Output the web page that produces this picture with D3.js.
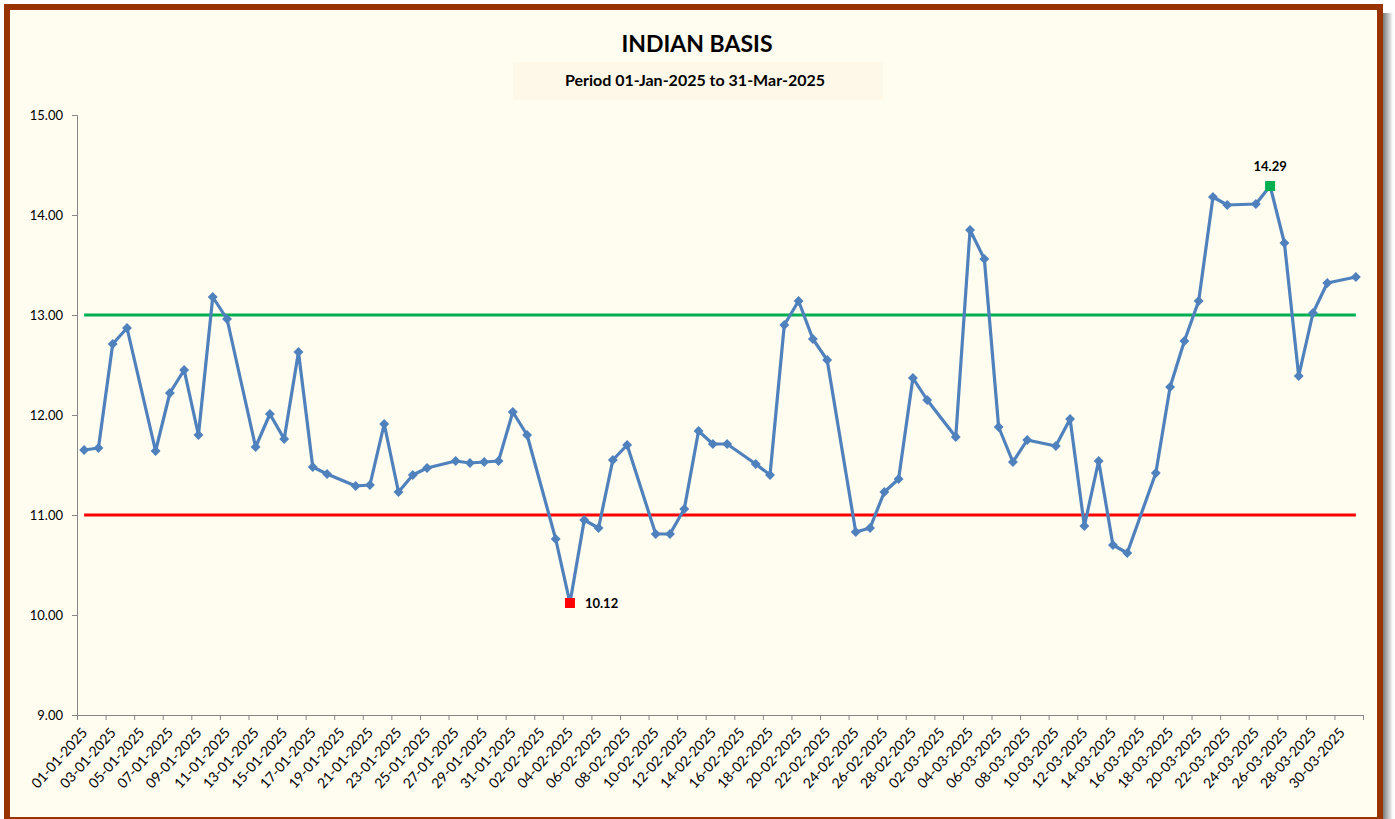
<!DOCTYPE html>
<html>
<head>
<meta charset="utf-8">
<title>Indian Basis</title>
<script src="https://d3js.org/d3.v7.min.js"></script>
<style>
  body { margin:0; background:#ffffff; }
  text { font-family: Lato, "Open Sans", sans-serif; fill:#000; }
</style>
</head>
<body>
<div id="chart"></div>
<script>

// trading days (Mon-Sat) and basis values
var dates = [
  "2025-01-01","2025-01-02","2025-01-03","2025-01-04","2025-01-06","2025-01-07","2025-01-08","2025-01-09",
  "2025-01-10","2025-01-11","2025-01-13","2025-01-14","2025-01-15","2025-01-16","2025-01-17","2025-01-18",
  "2025-01-20","2025-01-21","2025-01-22","2025-01-23","2025-01-24","2025-01-25","2025-01-27","2025-01-28",
  "2025-01-29","2025-01-30","2025-01-31","2025-02-01","2025-02-03","2025-02-04","2025-02-05","2025-02-06",
  "2025-02-07","2025-02-08","2025-02-10","2025-02-11","2025-02-12","2025-02-13","2025-02-14","2025-02-15",
  "2025-02-17","2025-02-18","2025-02-19","2025-02-20","2025-02-21","2025-02-22","2025-02-24","2025-02-25",
  "2025-02-26","2025-02-27","2025-02-28","2025-03-01","2025-03-03","2025-03-04","2025-03-05","2025-03-06",
  "2025-03-07","2025-03-08","2025-03-10","2025-03-11","2025-03-12","2025-03-13","2025-03-14","2025-03-15",
  "2025-03-17","2025-03-18","2025-03-19","2025-03-20","2025-03-21","2025-03-22","2025-03-24","2025-03-25",
  "2025-03-26","2025-03-27","2025-03-28","2025-03-29","2025-03-31"
];
var basis = [
  11.65, 11.67, 12.71, 12.87, 11.64, 12.22, 12.45, 11.80,
  13.18, 12.96, 11.68, 12.01, 11.76, 12.63, 11.48, 11.41,
  11.29, 11.30, 11.91, 11.23, 11.40, 11.47, 11.54, 11.52,
  11.53, 11.54, 12.03, 11.80, 10.76, 10.12, 10.95, 10.87,
  11.55, 11.70, 10.81, 10.81, 11.06, 11.84, 11.71, 11.71,
  11.51, 11.40, 12.90, 13.14, 12.76, 12.55, 10.83, 10.87,
  11.23, 11.36, 12.37, 12.15, 11.78, 13.85, 13.56, 11.88,
  11.53, 11.75, 11.69, 11.96, 10.89, 11.54, 10.70, 10.62,
  11.42, 12.28, 12.74, 13.14, 14.18, 14.10, 14.11, 14.29,
  13.72, 12.39, 13.02, 13.32, 13.38
];
var upperLimit = 13;
var lowerLimit = 11;
var yTicks = [9, 10, 11, 12, 13, 14, 15];
var periodStart = "2025-01-01";
var periodEnd = "2025-04-01";   // axis runs to the end of 31-Mar

var chartTitle = "INDIAN BASIS";
var chartSubtitle = "Period 01-Jan-2025 to 31-Mar-2025";

var W = 1395, H = 819;
var parse = d3.utcParse("%Y-%m-%d");
var fmt = d3.utcFormat("%d-%m-%Y");

var data = dates.map(function(d, i) {
  // points sit in the middle of their day
  return { date: d3.utcHour.offset(parse(d), 12), value: basis[i] };
});

var svg = d3.select("#chart").append("svg")
  .attr("width", W)
  .attr("height", H);

// drop shadow + brown frame
var defs = svg.append("defs");
var grad = defs.append("linearGradient").attr("id", "shadeR");
grad.append("stop").attr("offset", "0%").attr("stop-color", "#7a7a7a");
grad.append("stop").attr("offset", "100%").attr("stop-color", "#ffffff");
svg.append("rect")
  .attr("x", 1383).attr("y", 13)
  .attr("width", 10).attr("height", H)
  .attr("fill", "url(#shadeR)");

svg.append("rect")
  .attr("x", 7).attr("y", 7)
  .attr("width", 1373).attr("height", 813)
  .attr("fill", "#fffcf0")
  .attr("stroke", "#993300")
  .attr("stroke-width", 6);

// titles
svg.append("rect")
  .attr("x", 513).attr("y", 62)
  .attr("width", 370).attr("height", 38)
  .attr("fill", "#fdf8e8");

svg.append("text")
  .attr("x", 697).attr("y", 52)
  .attr("text-anchor", "middle")
  .style("font-size", "23px")
  .style("font-weight", "bold")
  .text(chartTitle);

svg.append("text")
  .attr("x", 695).attr("y", 86)
  .attr("text-anchor", "middle")
  .style("font-size", "16px")
  .style("font-weight", "bold")
  .text(chartSubtitle);

// scales
var x = d3.scaleUtc()
  .domain([parse(periodStart), parse(periodEnd)])
  .range([77, 1363]);

var y = d3.scaleLinear()
  .domain([9, 15])
  .range([715, 115]);

// y axis
var yAxis = svg.append("g")
  .attr("transform", "translate(77,0)")
  .call(d3.axisLeft(y).tickValues(yTicks).tickSize(5).tickPadding(9)
        .tickFormat(d3.format(".2f")));
yAxis.selectAll("path, line").attr("stroke", "#868686");
yAxis.selectAll("text").style("font-size", "13px").attr("fill", "#000");

// x axis, a tick every second day
var xTickDates = d3.utcDay.range(parse(periodStart), d3.utcDay.offset(parse(periodEnd), 1), 2);
var xAxis = svg.append("g")
  .attr("transform", "translate(0,715)")
  .call(d3.axisBottom(x).tickValues(xTickDates).tickSize(5)
        .tickFormat(function(d) { return d < parse(periodEnd) ? fmt(d) : ""; }));
xAxis.selectAll("path, line").attr("stroke", "#868686");
xAxis.selectAll("text")
  .style("font-size", "14px")
  .attr("fill", "#000")
  .attr("text-anchor", "end")
  .attr("y", 0).attr("dy", "0.35em")
  .attr("transform", "translate(7,15) rotate(-48)");

// limit lines across the data span
var first = data[0].date, last = data[data.length - 1].date;
svg.append("line")
  .attr("x1", x(first)).attr("x2", x(last))
  .attr("y1", y(upperLimit)).attr("y2", y(upperLimit))
  .attr("stroke", "#00b050").attr("stroke-width", 3);
svg.append("line")
  .attr("x1", x(first)).attr("x2", x(last))
  .attr("y1", y(lowerLimit)).attr("y2", y(lowerLimit))
  .attr("stroke", "#ff0000").attr("stroke-width", 3);

// basis line + diamond markers
var line = d3.line()
  .x(function(d) { return x(d.date); })
  .y(function(d) { return y(d.value); });

svg.append("path")
  .datum(data)
  .attr("d", line)
  .attr("fill", "none")
  .attr("stroke", "#4f81bd")
  .attr("stroke-width", 3.2)
  .attr("stroke-linejoin", "round");

svg.selectAll(".pt")
  .data(data)
  .enter()
  .append("rect")
  .attr("class", "pt")
  .attr("x", -3.5).attr("y", -3.5)
  .attr("width", 7).attr("height", 7)
  .attr("fill", "#4f81bd")
  .attr("transform", function(d) { return "translate(" + x(d.date) + "," + y(d.value) + ") rotate(45)"; });

// min / max highlights
var iMin = d3.minIndex(data, function(d) { return d.value; });
var iMax = d3.maxIndex(data, function(d) { return d.value; });
var lo = data[iMin], hi = data[iMax];

svg.append("rect")
  .attr("x", x(lo.date) - 5).attr("y", y(lo.value) - 5)
  .attr("width", 10).attr("height", 10)
  .attr("fill", "#ff0000");
svg.append("text")
  .attr("x", x(lo.date) + 15).attr("y", y(lo.value) + 5)
  .style("font-size", "13px").style("font-weight", "bold")
  .text(lo.value.toFixed(2));

svg.append("rect")
  .attr("x", x(hi.date) - 5).attr("y", y(hi.value) - 5)
  .attr("width", 10).attr("height", 10)
  .attr("fill", "#00b050");
svg.append("text")
  .attr("x", x(hi.date)).attr("y", y(hi.value) - 15)
  .attr("text-anchor", "middle")
  .style("font-size", "13px").style("font-weight", "bold")
  .text(hi.value.toFixed(2));

</script>
</body>
</html>
